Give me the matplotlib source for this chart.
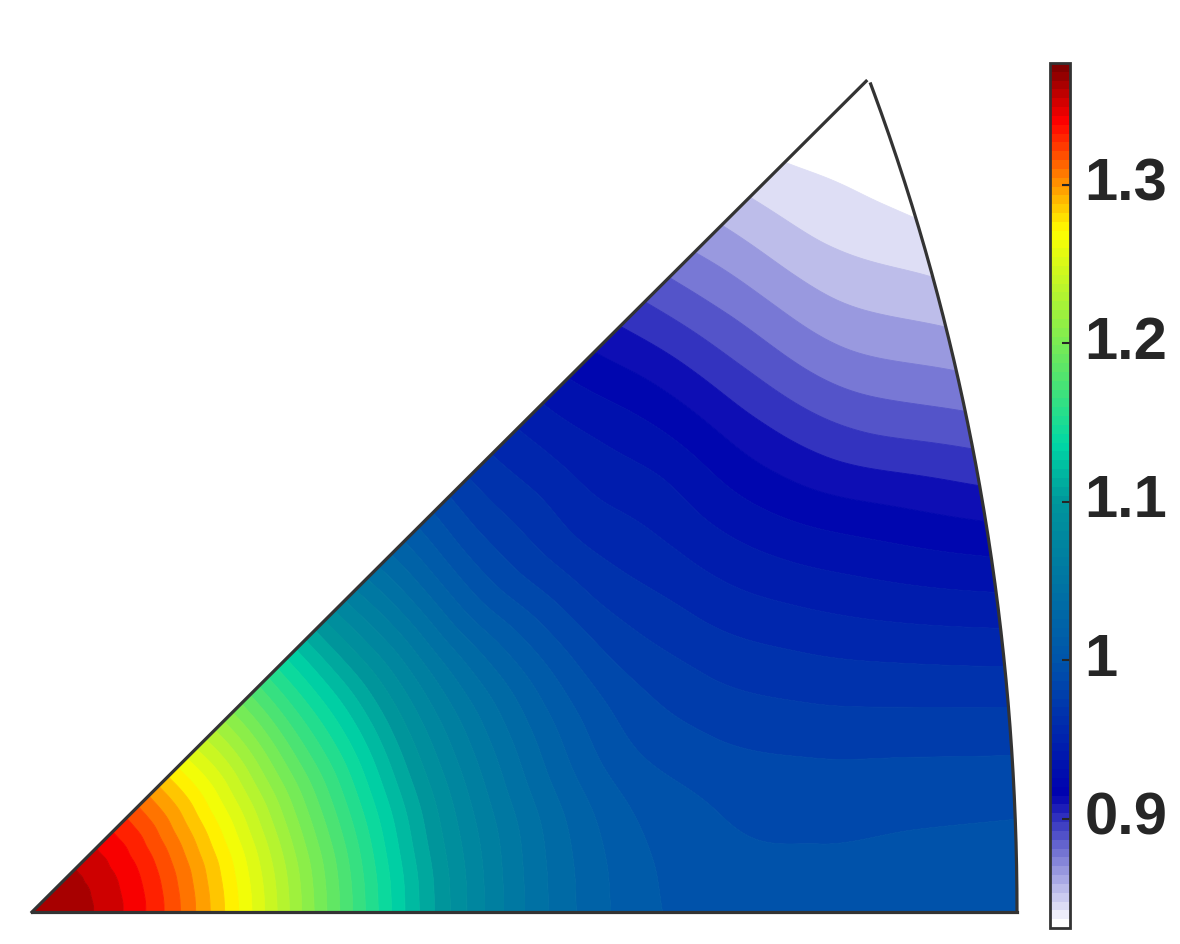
import numpy as np
import matplotlib
matplotlib.use('Agg')
import matplotlib.pyplot as plt
from matplotlib.cm import ScalarMappable
from matplotlib.colors import LinearSegmentedColormap, Normalize

# sampled values of the map, rows = angle from the bottom edge, columns = fraction of the way to the arc
angles_deg = [0, 5, 10, 15, 20, 25, 30, 35, 40, 45]
r_frac = [0.0, 0.1, 0.2, 0.3, 0.4, 0.5, 0.6, 0.7, 0.8, 0.9, 1.0]
values = [
    [1.3759, 1.3514, 1.2845, 1.1982, 1.1157, 1.0539, 1.0171, 1.0032, 1.0015, 1.0020, 1.0037],
    [1.3759, 1.3514, 1.2840, 1.1976, 1.1151, 1.0536, 1.0160, 1.0009, 0.9981, 0.9987, 0.9990],
    [1.3759, 1.3509, 1.2828, 1.1959, 1.1124, 1.0522, 1.0121, 0.9959, 0.9898, 0.9870, 0.9837],
    [1.3759, 1.3503, 1.2812, 1.1920, 1.1096, 1.0472, 1.0043, 0.9859, 0.9762, 0.9687, 0.9608],
    [1.3759, 1.3497, 1.2778, 1.1876, 1.1046, 1.0422, 0.9976, 0.9747, 0.9603, 0.9469, 0.9335],
    [1.3759, 1.3486, 1.2745, 1.1826, 1.0990, 1.0349, 0.9876, 0.9625, 0.9424, 0.9240, 0.9051],
    [1.3759, 1.3469, 1.2700, 1.1753, 1.0917, 1.0227, 0.9759, 0.9508, 0.9240, 0.8979, 0.8778],
    [1.3759, 1.3458, 1.2656, 1.1670, 1.0817, 1.0071, 0.9647, 0.9408, 0.9068, 0.8750, 0.8544],
    [1.3759, 1.3436, 1.2589, 1.1575, 1.0683, 0.9954, 0.9569, 0.9268, 0.8901, 0.8566, 0.8371],
    [1.3759, 1.3413, 1.2505, 1.1469, 1.0539, 0.9864, 0.9463, 0.9101, 0.8728, 0.8421, 0.8312],
]
vmin = 0.831
vmax = 1.377
n_bands = 49
tick_vals = [0.9, 1.0, 1.1, 1.2, 1.3]
tick_labels = ['0.9', '1', '1.1', '1.2', '1.3']

cmap_stops = [0, 0.1514, 0.31, 0.4925, 0.56, 0.676, 0.809, 0.873, 0.936, 1]
cmap_colors = ['#ffffff', '#0000af', '#0055aa', '#00969b', '#00d7a5',
               '#78eb55', '#ffff00', '#ff8000', '#ff0000', '#800000']
cmap = LinearSegmentedColormap.from_list('whitejet', list(zip(cmap_stops, cmap_colors)), N=512)


def arc_radius(phi):
    # equal area projection of the 101-111 edge, 1 = length of the bottom edge
    psi = np.arctan(1 / np.cos(phi))
    return np.sin(psi / 2) / np.sin(np.pi / 8)


def smooth_rows(grid, steps, flat_start=False):
    # catmull-rom between the columns of grid, only so the contour edges are not polygons
    first = grid[:, 1:2] if flat_start else 2 * grid[:, :1] - grid[:, 1:2]
    grid = np.concatenate([first, grid, 2 * grid[:, -1:] - grid[:, -2:-1]], axis=1)
    pos = np.linspace(0, grid.shape[1] - 3, steps)
    i = np.minimum(pos.astype(int), grid.shape[1] - 4)
    u = pos - i
    p0, p1, p2, p3 = grid[:, i], grid[:, i + 1], grid[:, i + 2], grid[:, i + 3]
    return 0.5 * (2 * p1 + (p2 - p0) * u + (2 * p0 - 5 * p1 + 4 * p2 - p3) * u ** 2 + (3 * p1 - p0 - 3 * p2 + p3) * u ** 3)


fig = plt.figure(figsize=(11.8, 9.44), dpi=100)
ax = fig.add_axes([32 / 1180, 32 / 944, 985 / 1180, 840 / 944])
ax.set_xlim(0, 1)
ax.set_ylim(0, 840 / 985 / 0.996)
ax.axis('off')

z_fine = smooth_rows(np.array(values), 401, flat_start=True)
z_fine = smooth_rows(z_fine.T, 361).T
z_fine = np.clip(z_fine, vmin + 1e-4, vmax - 1e-4)
ff = np.linspace(r_frac[0], r_frac[-1], 401)
pp = np.radians(np.linspace(angles_deg[0], angles_deg[-1], 361))
ff, pp = np.meshgrid(ff, pp)
rr = ff * arc_radius(pp)

levels = np.linspace(vmin, vmax, n_bands + 1)
band_colors = [cmap(k / n_bands) for k in range(n_bands)]
cs = ax.contourf(rr * np.cos(pp), rr * np.sin(pp), z_fine, levels=levels, colors=band_colors, antialiased=True)
cs.set_edgecolor('face')
cs.set_linewidth(0.6)

# outline of the sector
line_col = '#333333'
ax.plot([0, 1], [0, 0], color=line_col, lw=2.3, clip_on=False, solid_capstyle='projecting')
top_r = arc_radius(np.pi / 4) * 0.997
ax.plot([0, top_r * np.cos(np.pi / 4)], [0, top_r * np.sin(np.pi / 4)], color=line_col, lw=2.3, clip_on=False)
t = np.radians(np.linspace(0, 44.75, 200))
ax.plot(arc_radius(t) * np.cos(t), arc_radius(t) * np.sin(t), color=line_col, lw=2.3, clip_on=False)

# colorbar
cax = fig.add_axes([1050 / 1180, 16 / 944, 20 / 1180, 865 / 944])
sm = ScalarMappable(norm=Normalize(vmin, vmax), cmap=cmap.resampled(98))
cb = fig.colorbar(sm, cax=cax)
cb.set_ticks(tick_vals)
cb.set_ticklabels([])
cb.outline.set_edgecolor('#333333')
cb.outline.set_linewidth(2)
cax.minorticks_off()
cax.tick_params(direction='in', length=6, width=1.5, color='#262626')
for v, lab in zip(tick_vals, tick_labels):
    cax.annotate(lab, xy=(1, v), xycoords=cax.get_yaxis_transform(), xytext=(10.5, 0), textcoords='offset points',
                 va='center', ha='left', fontsize=43, fontweight='bold', family='Liberation Sans', color='#262626')

fig.savefig('out.png', dpi=100)
